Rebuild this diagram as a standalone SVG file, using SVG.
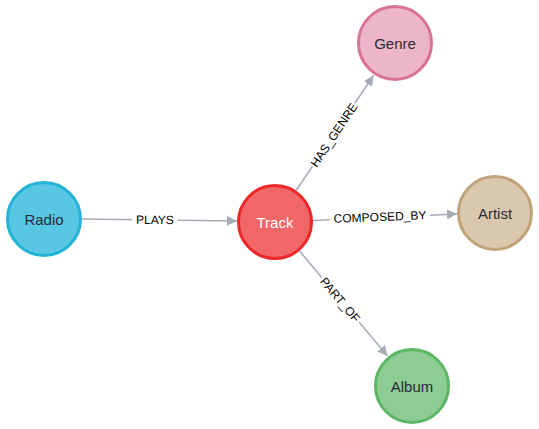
<svg xmlns="http://www.w3.org/2000/svg" width="539" height="429" viewBox="0 0 539 429">
<defs>
<style>
.node circle{stroke-width:3}
.node text{font-family:"Liberation Sans",Arial,sans-serif;font-size:15px;text-anchor:middle;dominant-baseline:central;fill:#2A2C34}
.edge line{stroke:#A5ABB6;stroke-width:1.5;fill:none}
.edge text{font-family:"Liberation Sans",Arial,sans-serif;font-size:12px;text-anchor:middle;dominant-baseline:central;fill:#000}
.edge rect{fill:#fff}
</style>
<marker id="arr" viewBox="0 0 10 10" refX="10" refY="5" markerWidth="10" markerHeight="10" markerUnits="userSpaceOnUse" orient="auto">
<path d="M0,0 L10,5 L0,10 Z" fill="#A5ABB6"/>
</marker>
</defs>
<rect width="539" height="429" fill="#fff"/>
<g id="connectors">
<g class="edge" id="e-plays">
<line x1="82" y1="219" x2="237" y2="221" marker-end="url(#arr)"/>
<g transform="translate(155,220) rotate(0.5)"><rect x="-23" y="-7" width="46" height="14"/><text>PLAYS</text></g>
</g>
<g class="edge" id="e-genre">
<line x1="296.5" y1="190" x2="373.5" y2="75.5" marker-end="url(#arr)"/>
<g transform="translate(334,135) rotate(-56.2)"><rect x="-38" y="-7" width="76" height="14"/><text>HAS_GENRE</text></g>
</g>
<g class="edge" id="e-artist">
<line x1="313" y1="220.5" x2="457" y2="214" marker-end="url(#arr)"/>
<g transform="translate(380,217) rotate(-2.3)"><rect x="-50" y="-7" width="100" height="14"/><text>COMPOSED_BY</text></g>
</g>
<g class="edge" id="e-album">
<line x1="299.5" y1="251" x2="387.5" y2="356" marker-end="url(#arr)"/>
<g transform="translate(340,300) rotate(49.9)"><rect x="-29" y="-7" width="58" height="14"/><text>PART_OF</text></g>
</g>
</g>
<g class="node" id="radio"><circle cx="44" cy="219" r="36.5" fill="#57C7E3" stroke="#23B3D7"/><text x="44" y="219">Radio</text></g>
<g class="node" id="track"><circle cx="275" cy="222" r="36.5" fill="#F16667" stroke="#EB2728"/><text x="275" y="222" style="fill:#fff">Track</text></g>
<g class="node" id="genre"><circle cx="395" cy="43" r="36.5" fill="#ECB5C9" stroke="#DA7298"/><text x="395" y="43">Genre</text></g>
<g class="node" id="artist"><circle cx="495" cy="213" r="36.5" fill="#D9C8AE" stroke="#C0A378"/><text x="495" y="213">Artist</text></g>
<g class="node" id="album"><circle cx="412" cy="386" r="36.5" fill="#8DCC93" stroke="#5DB665"/><text x="412" y="386">Album</text></g>
</svg>
